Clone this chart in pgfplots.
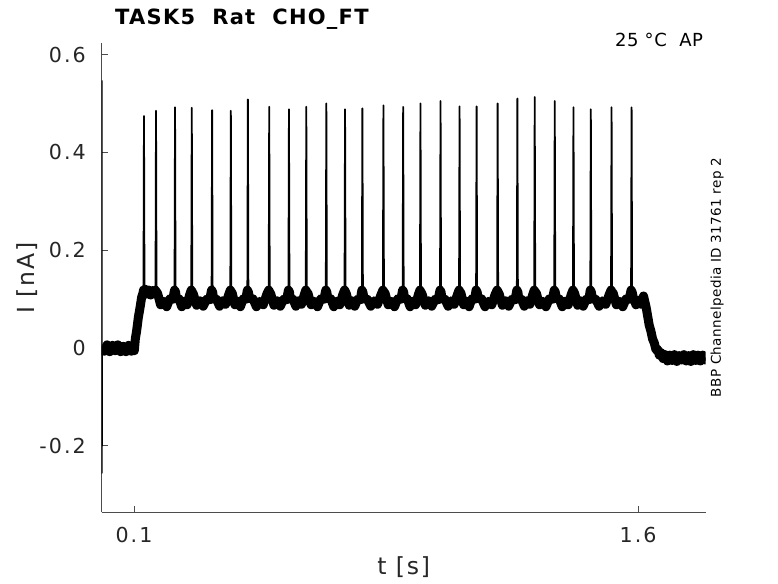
\documentclass[border=0pt]{standalone}
\usepackage{fontspec}
\setmainfont{DejaVu Sans}
\newfontfamily\tickfont{DejaVu Sans}[LetterSpace=10]
\newfontfamily\labfont{DejaVu Sans}[LetterSpace=8]
\newfontfamily\ttlfont{DejaVu Sans}[LetterSpace=6]
\newfontfamily\smallfont{DejaVu Sans}[LetterSpace=3]
\usepackage{pgfplots}
\usepackage{pgfplotstable}
\pgfplotsset{compat=1.18}

\pgfplotstableread{
t I
0.0040 0.547
0.0043 -0.256
0.0050 0.004
0.0120 -0.007
0.0200 0.006
0.0280 -0.008
0.0360 0.005
0.0440 -0.006
0.0520 0.006
0.0600 -0.008
0.0680 0.003
0.0760 -0.008
0.0840 0.005
0.0920 -0.007
0.0980 0.002
0.1010 -0.006
0.1040 0.018
0.1080 0.035
0.1130 0.062
0.1180 0.082
0.1230 0.104
0.1270 0.112
0.1283 0.118
0.1298 0.474
0.1313 0.114
0.1327 0.120
0.1384 0.110
0.1441 0.118
0.1498 0.108
0.1556 0.117
0.1613 0.111
0.1641 0.118
0.1656 0.485
0.1671 0.114
0.1701 0.112
0.1792 0.088
0.1882 0.095
0.1973 0.084
0.2064 0.100
0.2154 0.099
0.2207 0.118
0.2222 0.492
0.2237 0.114
0.2262 0.101
0.2342 0.100
0.2421 0.084
0.2501 0.095
0.2581 0.088
0.2660 0.109
0.2705 0.118
0.2720 0.491
0.2735 0.114
0.2768 0.110
0.2865 0.087
0.2962 0.096
0.3059 0.085
0.3156 0.099
0.3252 0.098
0.3310 0.118
0.3325 0.486
0.3340 0.114
0.3370 0.100
0.3459 0.099
0.3548 0.085
0.3637 0.096
0.3726 0.089
0.3815 0.108
0.3867 0.118
0.3882 0.485
0.3897 0.114
0.3923 0.112
0.4004 0.088
0.4085 0.095
0.4166 0.084
0.4247 0.100
0.4328 0.099
0.4374 0.118
0.4389 0.508
0.4404 0.114
0.4440 0.101
0.4541 0.100
0.4643 0.084
0.4745 0.095
0.4846 0.088
0.4948 0.109
0.5009 0.118
0.5024 0.493
0.5039 0.114
0.5071 0.110
0.5165 0.087
0.5259 0.096
0.5353 0.085
0.5447 0.099
0.5541 0.098
0.5596 0.118
0.5611 0.488
0.5626 0.114
0.5652 0.100
0.5735 0.099
0.5817 0.085
0.5900 0.096
0.5983 0.089
0.6065 0.108
0.6112 0.118
0.6127 0.493
0.6142 0.114
0.6175 0.112
0.6270 0.088
0.6365 0.095
0.6461 0.084
0.6556 0.100
0.6651 0.099
0.6708 0.118
0.6723 0.500
0.6738 0.114
0.6768 0.101
0.6857 0.100
0.6946 0.084
0.7035 0.095
0.7124 0.088
0.7213 0.109
0.7265 0.118
0.7280 0.488
0.7295 0.114
0.7321 0.110
0.7404 0.087
0.7486 0.096
0.7569 0.085
0.7652 0.099
0.7734 0.098
0.7781 0.118
0.7796 0.490
0.7811 0.114
0.7846 0.100
0.7946 0.099
0.8046 0.085
0.8147 0.096
0.8247 0.089
0.8347 0.108
0.8407 0.118
0.8422 0.496
0.8437 0.114
0.8469 0.112
0.8563 0.088
0.8657 0.095
0.8751 0.084
0.8845 0.100
0.8939 0.099
0.8994 0.118
0.9009 0.493
0.9024 0.114
0.9050 0.101
0.9133 0.100
0.9215 0.084
0.9297 0.095
0.9380 0.088
0.9462 0.109
0.9509 0.118
0.9524 0.500
0.9539 0.114
0.9572 0.110
0.9667 0.087
0.9763 0.096
0.9858 0.085
0.9954 0.099
1.0049 0.098
1.0106 0.118
1.0121 0.505
1.0136 0.114
1.0166 0.100
1.0257 0.099
1.0347 0.085
1.0438 0.096
1.0529 0.089
1.0619 0.108
1.0672 0.118
1.0687 0.494
1.0702 0.114
1.0728 0.112
1.0809 0.088
1.0890 0.095
1.0971 0.084
1.1052 0.100
1.1133 0.099
1.1179 0.118
1.1194 0.494
1.1209 0.114
1.1244 0.101
1.1344 0.100
1.1444 0.084
1.1545 0.095
1.1645 0.088
1.1745 0.109
1.1805 0.118
1.1820 0.500
1.1835 0.114
1.1867 0.110
1.1961 0.087
1.2055 0.096
1.2149 0.085
1.2243 0.099
1.2337 0.098
1.2392 0.118
1.2407 0.510
1.2422 0.114
1.2448 0.100
1.2531 0.099
1.2613 0.085
1.2696 0.096
1.2779 0.089
1.2861 0.108
1.2908 0.118
1.2923 0.513
1.2938 0.114
1.2971 0.112
1.3066 0.088
1.3161 0.095
1.3257 0.084
1.3352 0.100
1.3447 0.099
1.3504 0.118
1.3519 0.505
1.3534 0.114
1.3564 0.101
1.3653 0.100
1.3742 0.084
1.3831 0.095
1.3920 0.088
1.4009 0.109
1.4061 0.118
1.4076 0.492
1.4091 0.114
1.4117 0.110
1.4200 0.087
1.4282 0.096
1.4365 0.085
1.4448 0.099
1.4530 0.098
1.4577 0.118
1.4592 0.488
1.4607 0.114
1.4641 0.100
1.4740 0.099
1.4839 0.085
1.4938 0.096
1.5036 0.089
1.5135 0.108
1.5194 0.118
1.5209 0.492
1.5224 0.114
1.5257 0.112
1.5352 0.088
1.5447 0.095
1.5543 0.084
1.5638 0.100
1.5733 0.099
1.5790 0.118
1.5805 0.492
1.5820 0.114
1.5853 0.104
1.5935 0.088
1.6015 0.097
1.6095 0.089
1.6160 0.106
1.6200 0.094
1.6240 0.082
1.6280 0.066
1.6330 0.046
1.6380 0.034
1.6430 0.018
1.6480 0.010
1.6530 -0.004
1.6580 -0.003
1.6630 -0.015
1.6680 -0.010
1.6740 -0.022
1.6800 -0.014
1.6870 -0.027
1.6940 -0.015
1.7010 -0.026
1.7080 -0.014
1.7150 -0.028
1.7220 -0.016
1.7290 -0.025
1.7360 -0.014
1.7430 -0.027
1.7500 -0.016
1.7570 -0.028
1.7640 -0.014
1.7710 -0.026
1.7780 -0.015
1.7850 -0.027
1.7920 -0.015
1.7990 -0.025
1.8010 -0.020
}\trace

\begin{document}
\begin{tikzpicture}
\path[use as bounding box] (-101.7pt,-70.7pt) rectangle (676.3pt,512.3pt);
\begin{axis}[
  at={(0pt,0pt)}, anchor=south west,
  scale only axis, width=604pt, height=469pt,
  xmin=0.004, xmax=1.801, ymin=-0.3366, ymax=0.623,
  axis x line*=bottom, axis y line*=left,
  axis line style={-, black!70, line width=0.9pt},
  tick align=inside, major tick length=6pt,
  tick style={black!70, line width=0.9pt},
  xtick={0.1,1.6}, xticklabels={0.1,1.6},
  ytick={-0.2,0,0.2,0.4,0.6}, yticklabels={-0.2,0,0.2,0.4,0.6},
  /pgf/number format/assume math mode=true,
  tick label style={font=\tickfont\fontsize{20.6}{24}\selectfont, text=black!85, inner sep=0pt},
  yticklabel style={anchor=east, xshift=-15.7pt},
  xticklabel style={anchor=north, yshift=-15.2pt},
  xlabel={t [s]}, ylabel={I [nA]},
  xlabel style={at={(axis description cs:0.5,-0.1335)}, anchor=base, font=\labfont\fontsize{23.5}{28}\selectfont, text=black!85},
  ylabel style={at={(axis description cs:-0.1113,0.5)}, anchor=base, font=\labfont\fontsize{23.5}{28}\selectfont, text=black!85},
]
\addplot[black, line width=9pt, line join=round, restrict y to domain=-0.1:0.2, unbounded coords=discard] table[x=t, y=I] {\trace};
\addplot[black, line width=1.8pt, line join=round] table[x=t, y=I] {\trace};
\end{axis}
\node[anchor=base west, inner sep=0pt, font=\ttlfont\bfseries\fontsize{21}{25}\selectfont] at (13.3pt,487.3pt) {TASK5\ \ Rat\ \ CHO\_FT};
\node[anchor=base east, inner sep=0pt, font=\smallfont\fontsize{18}{22}\selectfont] at (601.6pt,465.6pt) {25 °C\ \ AP};
\node[anchor=base, rotate=90, inner sep=0pt, font=\smallfont\fontsize{13.5}{16}\selectfont] at (619.1pt,234.8pt) {BBP Channelpedia ID 31761 rep 2};
\end{tikzpicture}
\end{document}
